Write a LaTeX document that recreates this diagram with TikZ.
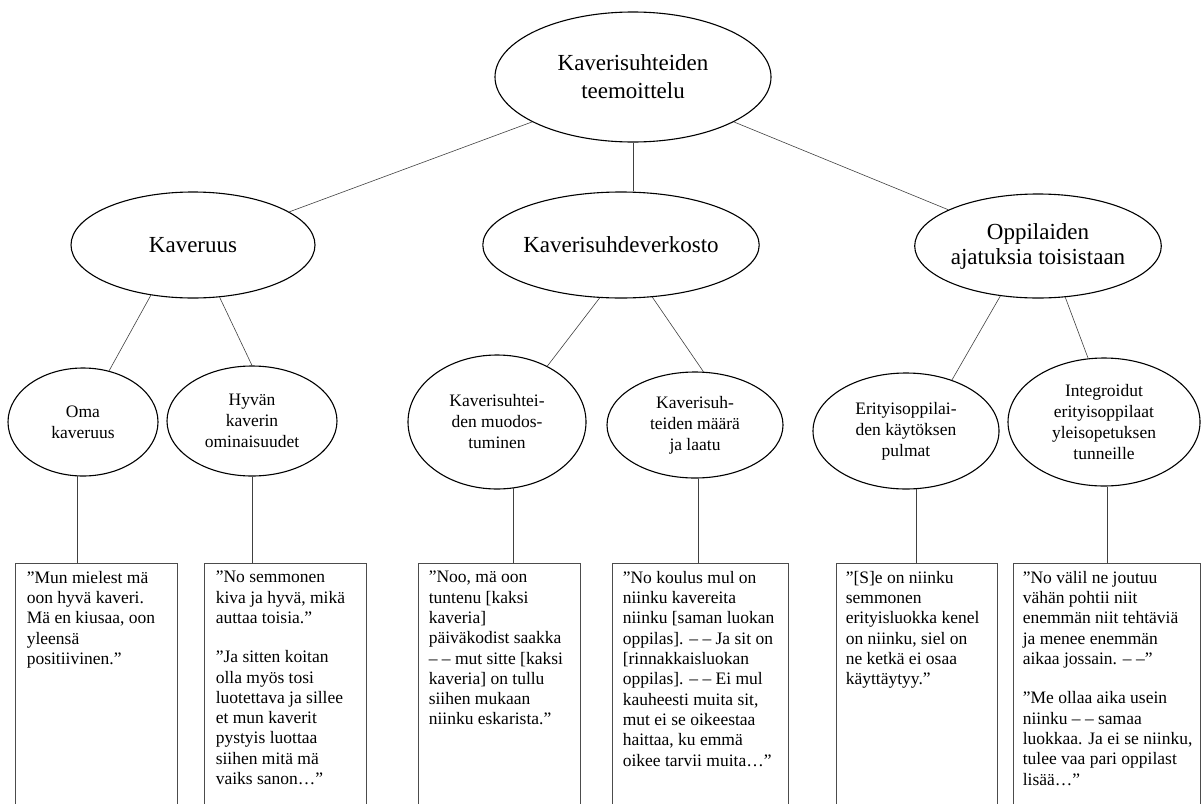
\documentclass[tikz,border=0pt]{standalone}
\usepackage{fontspec}
\setmainfont{Liberation Serif}
\usetikzlibrary{shapes.geometric}
\tikzset{
  el/.style={ellipse, draw, line width=1.1pt, inner sep=0pt, align=center},
  big/.style={font=\fontsize{23}{28}\selectfont},
  small/.style={font=\fontsize{17.5}{21}\selectfont},
  conn/.style={line width=0.6pt, draw=black!75},
  qbox/.style={draw=black!70, line width=0.8pt, minimum height=320pt, anchor=north, inner sep=0pt},
  qtext/.style={anchor=north west, inner sep=0pt, align=left, font=\fontsize{17.5}{20.3}\selectfont},
}
\begin{document}
\begin{tikzpicture}[x=1pt,y=-1pt]
\useasboundingbox (0,0) rectangle (1201,803);
\clip (0,0) rectangle (1201,803);

% level 1
\node[el,big,minimum width=276pt,minimum height=130pt] (top) at (633,77) {Kaverisuhteiden\\teemoittelu};

% level 2
\node[el,big,minimum width=244pt,minimum height=106pt] (kav) at (193,245) {Kaveruus};
\node[el,big,minimum width=242pt,minimum height=106pt] (mid) at (621,245) {Kaverisuhdeverkosto};
\node[el,minimum width=244pt,minimum height=104pt,font=\fontsize{23}{25}\selectfont] (opp) at (1038,246) {Oppilaiden\\ajatuksia toisistaan};

% level 3
\node[el,small,minimum width=150pt,minimum height=108pt] (oma) at (83,422) {Oma\\kaveruus};
\node[el,small,minimum width=170pt,minimum height=110pt] (hyv) at (252,421) {Hyvän\\kaverin\\ominaisuudet};
\node[el,small,minimum width=178pt,minimum height=134pt] (kmuod) at (497,422) {Kaverisuhtei-\\den muodos-\\tuminen};
\node[el,small,minimum width=176pt,minimum height=106pt] (kmaar) at (695,425) {Kaverisuh-\\teiden määrä\\ja laatu};
\node[el,small,minimum width=186pt,minimum height=116pt] (erit) at (906,431) {Erityisoppilai-\\den käytöksen\\pulmat};
\node[el,small,minimum width=192pt,minimum height=128pt] (int) at (1104,422) {Integroidut\\erityisoppilaat\\yleisopetuksen\\tunneille};

% quote boxes
\node[qbox,minimum width=162pt] (b1) at (96,563) {};
\node[qbox,minimum width=162pt] (b2) at (285,563) {};
\node[qbox,minimum width=162pt] (b3) at (499,563) {};
\node[qbox,minimum width=176pt] (b4) at (700,563) {};
\node[qbox,minimum width=161pt] (b5) at (916.5,563) {};
\node[qbox,minimum width=187pt] (b6) at (1106.5,563) {};

\node[qtext] (t1) at ([xshift=12pt,yshift=-8pt]b1.north west) {”Mun mielest mä\\oon hyvä kaveri.\\Mä en kiusaa, oon\\yleensä\\positiivinen.”};
\node[qtext] (t2) at ([xshift=12pt,yshift=-8pt]b2.north west) {”No semmonen\\kiva ja hyvä, mikä\\auttaa toisia.”\\[19pt]”Ja sitten koitan\\olla myös tosi\\luotettava ja sillee\\et mun kaverit\\pystyis luottaa\\siihen mitä mä\\vaiks sanon…”};
\node[qtext] (t3) at ([xshift=11pt,yshift=-8pt]b3.north west) {”Noo, mä oon\\tuntenu [kaksi\\kaveria]\\päiväkodist saakka\\– – mut sitte [kaksi\\kaveria] on tullu\\siihen mukaan\\niinku eskarista.”};
\node[qtext] (t4) at ([xshift=11pt,yshift=-8pt]b4.north west) {”No koulus mul on\\niinku kavereita\\niinku [saman luokan\\oppilas]. – – Ja sit on\\{}[rinnakkaisluokan\\oppilas]. – – Ei mul\\kauheesti muita sit,\\mut ei se oikeestaa\\haittaa, ku emmä\\oikee tarvii muita…”};
\node[qtext] (t5) at ([xshift=10pt,yshift=-8pt]b5.north west) {”[S]e on niinku\\semmonen\\erityisluokka kenel\\on niinku, siel on\\ne ketkä ei osaa\\käyttäytyy.”};
\node[qtext] (t6) at ([xshift=10pt,yshift=-8pt]b6.north west) {”No välil ne joutuu\\vähän pohtii niit\\enemmän niit tehtäviä\\ja menee enemmän\\aikaa jossain. – –”\\[19pt]”Me ollaa aika usein\\niinku – – samaa\\luokkaa. Ja ei se niinku,\\tulee vaa pari oppilast\\lisää…”};

% connectors
\draw[conn] (top.204) -- (kav.19);
\draw[conn] (top.south) -- (top.south |- mid.north);
\draw[conn] (top.336) -- (opp.158);
\draw[conn] (kav.230) -- (oma.63);
\draw[conn] (kav.297) -- (hyv.north);
\draw[conn] (mid.248) -- (kmuod.48);
\draw[conn] (mid.301) -- (kmaar.81);
\draw[conn] (opp.233) -- (erit.48);
\draw[conn] (opp.298) -- (int.104);

\draw[conn] (oma.264) -- (oma.264 |- b1.north);
\draw[conn] (hyv.south) -- (hyv.south |- b2.north);
\draw[conn] (kmuod.284) -- (kmuod.284 |- b3.north);
\draw[conn] (kmaar.273) -- (kmaar.273 |- b4.north);
\draw[conn] (erit.280) -- (erit.280 |- b5.north);
\draw[conn] (int.273) -- (int.273 |- b6.north);
\end{tikzpicture}
\end{document}
